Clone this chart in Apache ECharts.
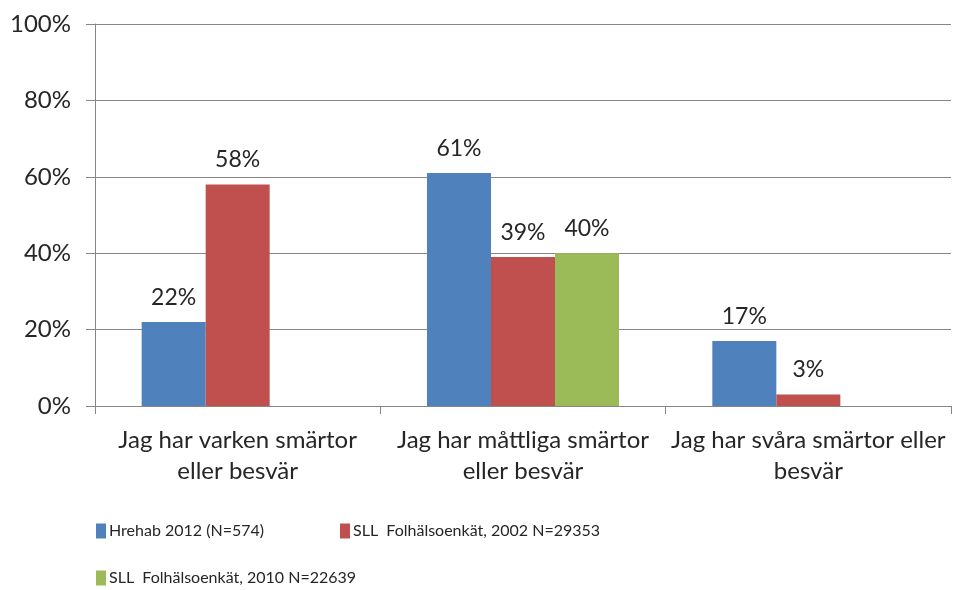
<!DOCTYPE html>
<html>
<head>
<meta charset="utf-8">
<script src="https://cdn.jsdelivr.net/npm/echarts@6/dist/echarts.min.js"></script>
<style>
  html, body { margin: 0; padding: 0; background: #fff; }
  #main { width: 957px; height: 590px; }
</style>
</head>
<body>
<div id="main"></div>
<script>
var categories = [
    'Jag har varken smärtor\neller besvär',
    'Jag har måttliga smärtor\neller besvär',
    'Jag har svåra smärtor eller\nbesvär'
]
var seriesNames = [
    'Hrehab 2012 (N=574)',
    'SLL  Folhälsoenkät, 2002 N=29353',
    'SLL  Folhälsoenkät, 2010 N=22639'
]
var hrehab = [22, 61, 17]
var sll2002 = [58, 39, 3]
var sll2010 = [null, 40, null]
var yTicks = [0, 20, 40, 60, 80, 100]

var colors = ['#4F81BD', '#C0504D', '#9BBB59']
var fontName = 'Lato'
var textColor = '#262626'

var myChart = echarts.init(document.getElementById('main'))

var allValues = [hrehab, sll2002, sll2010]
var series = []
allValues.forEach(function (vals, i) {
    series.push({
        name: seriesNames[i],
        type: 'bar',
        data: vals,
        barWidth: 64,
        barGap: '0%',
        itemStyle: { color: colors[i] },
        label: {
            show: true,
            position: 'top',
            distance: 13,
            formatter: '{c}%',
            fontFamily: fontName,
            fontSize: 23,
            color: textColor
        }
    })
})

// one legend per entry so they sit where they do in the picture
var legendPos = [[96, 522], [340, 522], [96, 569]]
var legends = seriesNames.map(function (n, i) {
    return {
        data: [n],
        left: legendPos[i][0],
        top: legendPos[i][1],
        padding: 0,
        icon: 'rect',
        itemWidth: 10,
        itemHeight: 15,
        textStyle: { fontFamily: fontName, fontSize: 16, lineHeight: 18, color: textColor, padding: [0, 0, 0, -2] }
    }
})

var option = {
    animation: false,
    backgroundColor: '#fff',
    grid: { left: 95, right: 6, top: 24, bottom: 184, containLabel: false },
    legend: legends,
    xAxis: {
        type: 'category',
        data: categories,
        axisLine: { show: true, lineStyle: { color: '#868686', width: 1 } },
        axisTick: { show: true, length: 8, lineStyle: { color: '#868686' } },
        axisLabel: {
            fontFamily: fontName,
            fontSize: 24,
            color: textColor,
            margin: 19,
            lineHeight: 31,
            interval: 0
        }
    },
    yAxis: {
        type: 'value',
        min: yTicks[0],
        max: yTicks[yTicks.length - 1],
        interval: yTicks[1] - yTicks[0],
        axisLine: { show: true, lineStyle: { color: '#868686', width: 1 } },
        axisTick: { show: true, length: 9, lineStyle: { color: '#868686' } },
        splitLine: { show: true, lineStyle: { color: '#868686', width: 1 } },
        axisLabel: {
            formatter: '{value}%',
            fontFamily: fontName,
            fontSize: 24,
            color: textColor,
            margin: 24
        }
    },
    series: series
}
myChart.setOption(option)
</script>
</body>
</html>
